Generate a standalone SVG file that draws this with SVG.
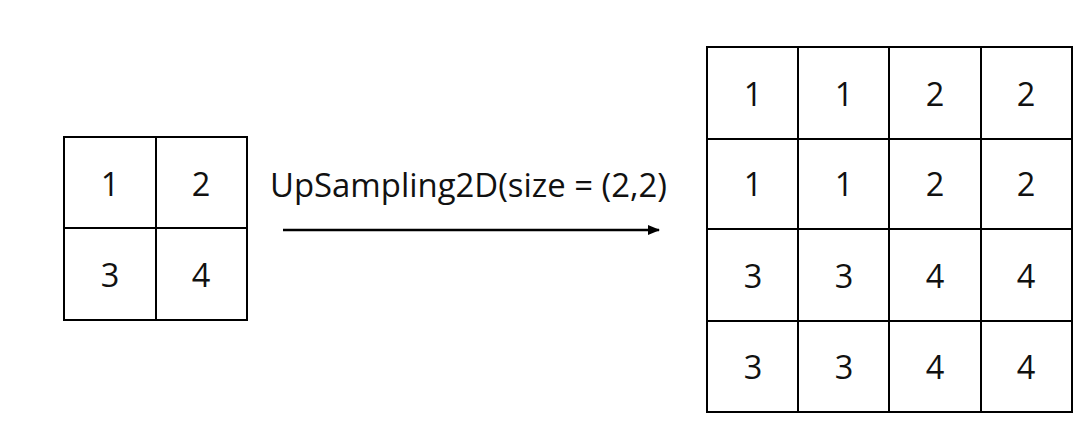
<svg xmlns="http://www.w3.org/2000/svg" width="1088" height="428" viewBox="0 0 1088 428">
<style>
.g{fill:none;stroke:#000;stroke-width:2}
.t{font-family:"Open Sans","Noto Sans",sans-serif;font-size:32.5px;fill:#111;text-anchor:middle}
.l{font-family:"Open Sans","Noto Sans",sans-serif;font-size:32.5px;fill:#111}
</style>
<defs>
<marker id="ah" markerWidth="12" markerHeight="12" refX="11" refY="6" orient="auto" markerUnits="userSpaceOnUse">
<path d="M0,1 L12,6 L0,11 Z" fill="#000"/>
</marker>
</defs>
<rect width="1088" height="428" fill="#fff"/>
<g id="input-grid">
<rect class="g" x="64" y="137" width="183" height="183"/>
<line class="g" x1="156" y1="137" x2="156" y2="320"/>
<line class="g" x1="64" y1="228" x2="247" y2="228"/>
<text class="t" x="110" y="196">1</text>
<text class="t" x="201" y="196">2</text>
<text class="t" x="110" y="287">3</text>
<text class="t" x="201" y="287">4</text>
</g>
<g id="connectors">
<line x1="283" y1="230" x2="659" y2="230" stroke="#000" stroke-width="2.5" marker-end="url(#ah)"/>
<text class="l" x="270" y="197" textLength="397" lengthAdjust="spacingAndGlyphs">UpSampling2D(size = (2,2)</text>
</g>
<g id="output-grid">
<rect class="g" x="707" y="47" width="365" height="365"/>
<line class="g" x1="798" y1="47" x2="798" y2="412"/>
<line class="g" x1="889" y1="47" x2="889" y2="412"/>
<line class="g" x1="981" y1="47" x2="981" y2="412"/>
<line class="g" x1="707" y1="139" x2="1072" y2="139"/>
<line class="g" x1="707" y1="229" x2="1072" y2="229"/>
<line class="g" x1="707" y1="321" x2="1072" y2="321"/>
<text class="t" x="753" y="106">1</text>
<text class="t" x="844" y="106">1</text>
<text class="t" x="935" y="106">2</text>
<text class="t" x="1026" y="106">2</text>
<text class="t" x="753" y="196">1</text>
<text class="t" x="844" y="196">1</text>
<text class="t" x="935" y="196">2</text>
<text class="t" x="1026" y="196">2</text>
<text class="t" x="753" y="288">3</text>
<text class="t" x="844" y="288">3</text>
<text class="t" x="935" y="288">4</text>
<text class="t" x="1026" y="288">4</text>
<text class="t" x="753" y="379">3</text>
<text class="t" x="844" y="379">3</text>
<text class="t" x="935" y="379">4</text>
<text class="t" x="1026" y="379">4</text>
</g>
</svg>
